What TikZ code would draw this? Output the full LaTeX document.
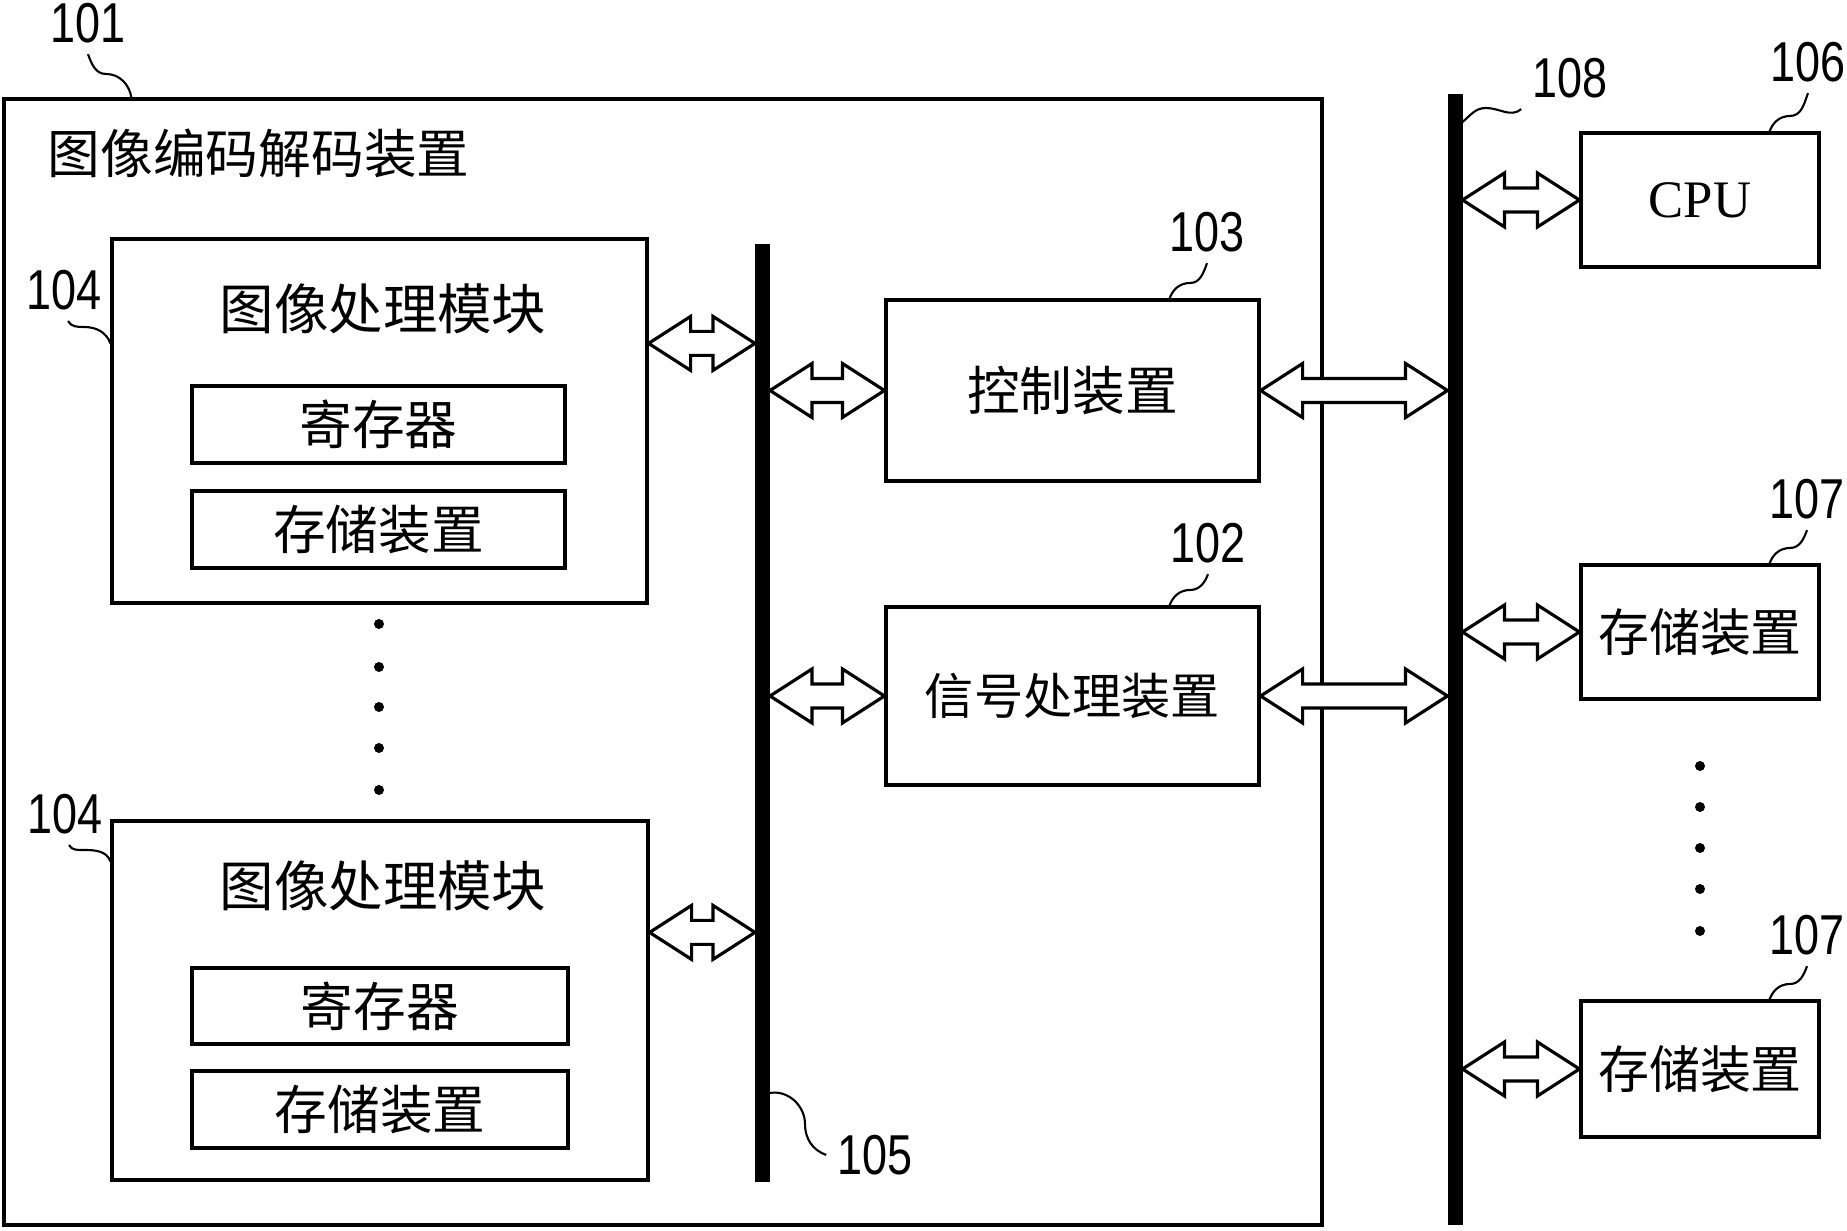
\documentclass[tikz,border=0pt]{standalone}
\usepackage{fontspec}
\setmainfont{Liberation Serif}
\newfontfamily\cjk{Noto Sans CJK SC}
\newfontfamily\numfont[FakeStretch=0.8]{Liberation Sans}
\usetikzlibrary{calc}

% hollow two-headed arrow between two points on one level
\newcommand{\biarrow}[2]{%
  \draw[hollow] let \p1=(#1), \p2=(#2) in
    (\x1,\y1) -- (\x1+0.42cm,\y1+0.27cm) -- (\x1+0.42cm,\y1+0.12cm)
    -- (\x2-0.42cm,\y1+0.12cm) -- (\x2-0.42cm,\y1+0.27cm) -- (\x2,\y1)
    -- (\x2-0.42cm,\y1-0.27cm) -- (\x2-0.42cm,\y1-0.12cm)
    -- (\x1+0.42cm,\y1-0.12cm) -- (\x1+0.42cm,\y1-0.27cm) -- cycle;}

\begin{document}
\begin{tikzpicture}[
    box/.style={draw, line width=0.9pt, inner sep=0pt},
    bus/.style={fill=black, inner sep=0pt, outer sep=0pt, minimum width=0.15cm},
    zh/.style={font=\cjk\fontsize{15pt}{18pt}\selectfont},
    num/.style={font=\numfont\fontsize{16pt}{18pt}\selectfont, inner sep=3pt},
    lead/.style={line width=0.6pt},
    hollow/.style={draw, fill=white, line width=0.9pt}
  ]
  \useasboundingbox (0,0) rectangle (18.47,-12.31);

  % the device 101
  \node[box, minimum width=13.18cm, minimum height=11.26cm] (dev) at (6.63,-6.62) {};
  \node[zh, anchor=west, inner sep=0pt] (devname) at (0.47,-1.53) {图像编码解码装置};

  % image processing modules 104
  \node[box, minimum width=5.35cm, minimum height=3.64cm] (ipm1) at (3.795,-4.21) {};
  \node[zh, font=\cjk\fontsize{15.5pt}{18pt}\selectfont] (ipm1name) at (3.83,-3.09) {图像处理模块};
  \node[box, zh, minimum width=3.73cm, minimum height=0.77cm] (reg1) at (3.785,-4.245) {寄存器};
  \node[box, zh, minimum width=3.73cm, minimum height=0.77cm] (mem1) at (3.785,-5.295) {存储装置};

  \foreach \y in {-6.24,-6.67,-7.07,-7.48,-7.90}
    \fill (3.79,\y) circle (0.05);

  \node[box, minimum width=5.36cm, minimum height=3.59cm] (ipm2) at (3.80,-10.005) {};
  \node[zh, font=\cjk\fontsize{15.5pt}{18pt}\selectfont] (ipm2name) at (3.83,-8.86) {图像处理模块};
  \node[box, zh, minimum width=3.76cm, minimum height=0.76cm] (reg2) at (3.80,-10.06) {寄存器};
  \node[box, zh, minimum width=3.76cm, minimum height=0.77cm] (mem2) at (3.80,-11.095) {存储装置};

  % buses 105 and 108
  \node[bus, minimum height=9.38cm] (bus105) at (7.625,-7.13) {};
  \node[bus, minimum height=11.31cm] (bus108) at (14.55,-6.595) {};

  % control and signal processing
  \node[box, zh, minimum width=3.73cm, minimum height=1.81cm] (ctl) at (10.725,-3.905) {控制装置};
  \node[box, zh, font=\cjk\fontsize{14pt}{18pt}\selectfont, minimum width=3.73cm, minimum height=1.78cm] (sig) at (10.725,-6.96) {信号处理装置};

  % outside the device
  \node[box, font=\fontsize{15pt}{18pt}\selectfont, minimum width=2.38cm, minimum height=1.34cm] (cpu) at (17.00,-2.00) {CPU};
  \node[box, zh, font=\cjk\fontsize{14.5pt}{18pt}\selectfont, minimum width=2.38cm, minimum height=1.34cm] (mem3) at (17.00,-6.32) {存储装置};
  \node[box, zh, font=\cjk\fontsize{14.5pt}{18pt}\selectfont, minimum width=2.38cm, minimum height=1.36cm] (mem4) at (17.00,-10.69) {存储装置};

  \foreach \y in {-7.66,-8.07,-8.48,-8.89,-9.31}
    \fill (17.00,\y) circle (0.05);

  % bus arrows
  \coordinate (p1) at ([yshift=-1.06cm]ipm1.north east);
  \coordinate (p2) at ([yshift=-1.13cm]ipm2.north east);
  \biarrow{p1}{p1 -| bus105.west}
  \biarrow{p2}{p2 -| bus105.west}
  \biarrow{bus105.east |- ctl.west}{ctl.west}
  \biarrow{bus105.east |- sig.west}{sig.west}
  \biarrow{ctl.east}{ctl.east -| bus108.west}
  \biarrow{sig.east}{sig.east -| bus108.west}
  \biarrow{bus108.east |- cpu.west}{cpu.west}
  \biarrow{bus108.east |- mem3.west}{mem3.west}
  \biarrow{bus108.east |- mem4.west}{mem4.west}

  % reference numerals
  \node[num] (l101) at (0.88,-0.23) {101};
  \node[num] (l104a) at (0.64,-2.90) {104};
  \node[num] (l104b) at (0.65,-8.14) {104};
  \node[num] (l105) at (8.75,-11.55) {105};
  \node[num] (l103) at (12.07,-2.32) {103};
  \node[num] (l102) at (12.08,-5.43) {102};
  \node[num] (l108) at (15.70,-0.78) {108};
  \node[num] (l106) at (18.08,-0.62) {106};
  \node[num] (l107a) at (18.07,-4.99) {107};
  \node[num] (l107b) at (18.07,-9.35) {107};

  \draw[lead] (l101.south) to[out=-70,in=180] (1.06,-0.74) to[out=0,in=100] ([xshift=1.29cm]dev.north west);
  \draw[lead] ([xshift=0.04cm]l104a.south) to[out=-60,in=180] (0.84,-3.27) to[out=0,in=110] ([yshift=-1.06cm]ipm1.north west);
  \draw[lead] ([xshift=0.04cm]l104b.south) to[out=-60,in=180] (0.84,-8.50) to[out=0,in=110] ([yshift=-0.42cm]ipm2.north west);
  \draw[lead] ([yshift=0.89cm]bus105.south east) to[out=10,in=90] (8.05,-11.24) to[out=-90,in=160] (l105.west);
  \draw[lead] (l103.south) to[out=-110,in=0] (11.90,-2.83) to[out=180,in=70] ([xshift=-0.91cm]ctl.north east);
  \draw[lead] (l102.south) to[out=-110,in=0] (11.90,-5.90) to[out=180,in=70] ([xshift=-0.91cm]sig.north east);
  \draw[lead] ([yshift=-0.28cm]bus108.north east) to[out=40,in=180] (14.86,-1.08) to[out=0,in=220] (l108.south west);
  \draw[lead] (l106.south) to[out=-110,in=0] (17.90,-1.16) to[out=180,in=70] ([xshift=-0.51cm]cpu.north east);
  \draw[lead] (l107a.south) to[out=-110,in=0] (17.90,-5.48) to[out=180,in=70] ([xshift=-0.51cm]mem3.north east);
  \draw[lead] (l107b.south) to[out=-110,in=0] (17.90,-9.84) to[out=180,in=70] ([xshift=-0.51cm]mem4.north east);
\end{tikzpicture}
\end{document}
